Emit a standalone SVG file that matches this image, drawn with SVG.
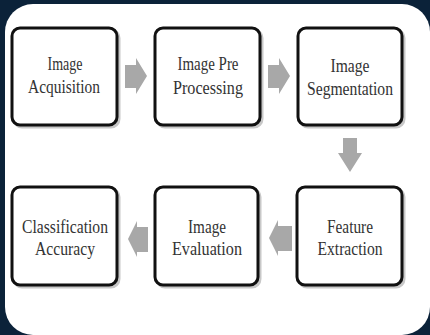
<svg xmlns="http://www.w3.org/2000/svg" width="430" height="335" viewBox="0 0 430 335">
  <defs>
    <style>
      .box { fill: #ffffff; stroke: #111111; stroke-width: 3; }
      .shadow { fill: none; stroke: #c8c8c8; stroke-width: 3; }
      .lbl { font-family: "Liberation Serif", "Times New Roman", serif; font-size: 19px; fill: #333333; text-anchor: middle; }
      .arrow { fill: #a8a8a8; }
    </style>
  </defs>

  <!-- frame -->
  <rect x="0" y="0" width="430" height="335" fill="#0b2239"/>
  <rect x="5" y="4" width="425" height="331" rx="28" ry="28" fill="#ffffff"/>

  <!-- top row -->
  <g id="node-acquisition">
    <rect class="shadow" x="14" y="30" width="105" height="97" rx="8"/>
    <rect class="box" x="12" y="28" width="105" height="97" rx="8"/>
    <text class="lbl" x="65" y="70" textLength="35" lengthAdjust="spacingAndGlyphs">Image</text>
    <text class="lbl" x="64" y="93" textLength="72" lengthAdjust="spacingAndGlyphs">Acquisition</text>
  </g>

  <g id="node-preprocessing">
    <rect class="shadow" x="157" y="30" width="105" height="97" rx="8"/>
    <rect class="box" x="155" y="28" width="105" height="97" rx="8"/>
    <text class="lbl" x="208" y="70" textLength="61" lengthAdjust="spacingAndGlyphs">Image Pre</text>
    <text class="lbl" x="208" y="94" textLength="70" lengthAdjust="spacingAndGlyphs">Processing</text>
  </g>

  <g id="node-segmentation">
    <rect class="shadow" x="300" y="30" width="104" height="97" rx="8"/>
    <rect class="box" x="298" y="28" width="104" height="97" rx="8"/>
    <text class="lbl" x="350" y="72" textLength="39" lengthAdjust="spacingAndGlyphs">Image</text>
    <text class="lbl" x="350" y="95" textLength="86" lengthAdjust="spacingAndGlyphs">Segmentation</text>
  </g>

  <!-- bottom row -->
  <g id="node-classification">
    <rect class="shadow" x="14" y="189" width="105" height="98" rx="8"/>
    <rect class="box" x="12" y="187" width="105" height="98" rx="8"/>
    <text class="lbl" x="65" y="233" textLength="86" lengthAdjust="spacingAndGlyphs">Classification</text>
    <text class="lbl" x="65" y="255" textLength="60" lengthAdjust="spacingAndGlyphs">Accuracy</text>
  </g>

  <g id="node-evaluation">
    <rect class="shadow" x="157" y="189" width="103" height="98" rx="8"/>
    <rect class="box" x="155" y="187" width="103" height="98" rx="8"/>
    <text class="lbl" x="207" y="233" textLength="38" lengthAdjust="spacingAndGlyphs">Image</text>
    <text class="lbl" x="207" y="255" textLength="70" lengthAdjust="spacingAndGlyphs">Evaluation</text>
  </g>

  <g id="node-feature">
    <rect class="shadow" x="299" y="189" width="105" height="98" rx="8"/>
    <rect class="box" x="297" y="187" width="105" height="98" rx="8"/>
    <text class="lbl" x="350" y="233" textLength="46" lengthAdjust="spacingAndGlyphs">Feature</text>
    <text class="lbl" x="350" y="255" textLength="65" lengthAdjust="spacingAndGlyphs">Extraction</text>
  </g>

  <!-- block arrows between the stages -->
  <g id="connectors">
    <polygon class="arrow" points="125,65 136,65 136,58 147,76 136,94 136,88 125,88"/>
    <polygon class="arrow" points="268,65 279,65 279,58 290,76 279,94 279,88 268,88"/>
    <polygon class="arrow" points="343,138 357,138 357,153 362,153 350,172 338,153 343,153"/>
    <polygon class="arrow" points="292,226 278,226 278,220 269,238 278,256 278,251 292,251"/>
    <polygon class="arrow" points="148,227 137,227 137,221 128,239 137,257 137,252 148,252"/>
  </g>
</svg>
